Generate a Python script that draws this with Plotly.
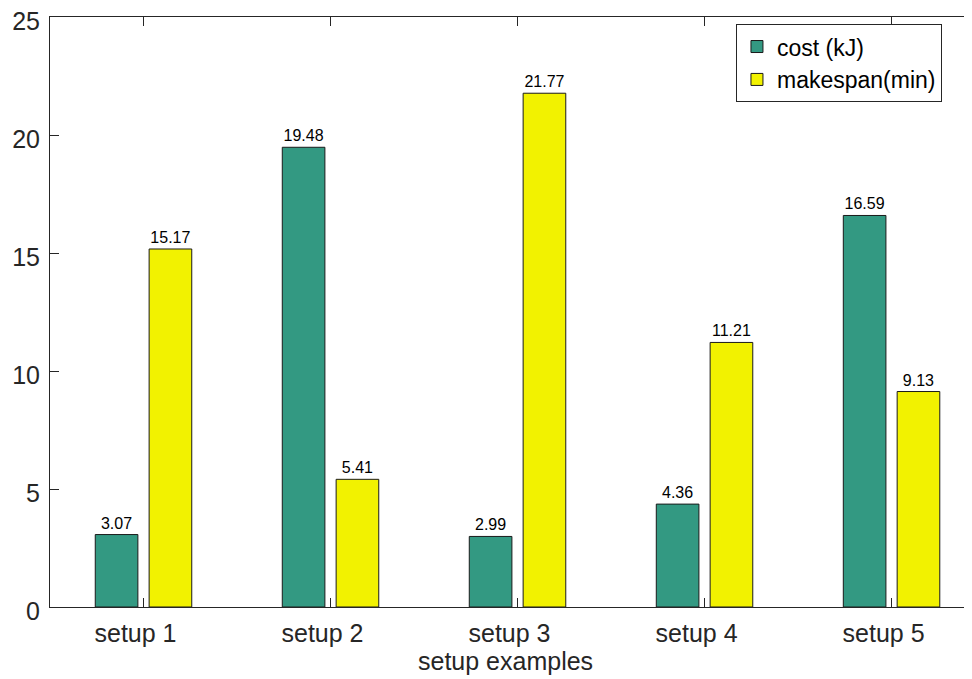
import plotly.graph_objects as go

categories = ["setup 1", "setup 2", "setup 3", "setup 4", "setup 5"]
cost = [3.07, 19.48, 2.99, 4.36, 16.59]
makespan = [15.17, 5.41, 21.77, 11.21, 9.13]
series_names = ["cost (kJ)", "makespan(min)"]
y_ticks = [0, 5, 10, 15, 20, 25]
x_title = "setup examples"

FONT = "Liberation Sans, Arial, Helvetica, sans-serif"
AX = "#262626"
x_pos = list(range(1, len(categories) + 1))
W = 0.228

fig = go.Figure()
fig.add_trace(go.Bar(
    x=x_pos, y=cost, name=series_names[0], width=W, offset=-0.144 - W / 2,
    marker=dict(color="rgb(51,153,130)", line=dict(color="#1a1a1a", width=1)),
    texttemplate="%{y:.2f}", textposition="outside",
    textfont=dict(size=16, color="black", family=FONT), cliponaxis=False,
))
fig.add_trace(go.Bar(
    x=x_pos, y=makespan, name=series_names[1], width=W, offset=0.144 - W / 2,
    marker=dict(color="rgb(242,242,0)", line=dict(color="#1a1a1a", width=1)),
    texttemplate="%{y:.2f}", textposition="outside",
    textfont=dict(size=16, color="black", family=FONT), cliponaxis=False,
))

fig.add_annotation(
    text=x_title, xref="paper", yref="paper", x=0.5, y=0,
    xanchor="center", yanchor="top", xshift=-10, yshift=-38,
    showarrow=False, font=dict(size=25, color=AX, family=FONT),
)

fig.update_layout(
    width=972, height=679,
    margin=dict(l=42, r=0, t=9, b=80, autoexpand=False),
    paper_bgcolor="white", plot_bgcolor="white",
    barmode="overlay",
    font=dict(family=FONT, color=AX),
    showlegend=True,
    legend=dict(
        x=0.7376, xanchor="left", y=0.988, yanchor="top",
        bgcolor="white", bordercolor=AX, borderwidth=1,
        font=dict(size=23, color="black", family=FONT),
        tracegroupgap=0, itemwidth=30,
    ),
    xaxis=dict(
        range=[0.5, 5.473], tickmode="array", tickvals=x_pos, ticktext=categories,
        ticks="inside", ticklen=9, tickcolor=AX, showline=True, linecolor=AX,
        linewidth=1, mirror="ticks", showgrid=False, zeroline=False,
        automargin=False, ticklabelshift=-8, ticklabelstandoff=4,
        tickfont=dict(size=25, color=AX),
    ),
    yaxis=dict(
        range=[0, 25], tickmode="array", tickvals=y_ticks,
        ticks="inside", ticklen=9, tickcolor=AX, showline=True, linecolor=AX,
        linewidth=1, showgrid=False, zeroline=False, automargin=False,
        ticklabelstandoff=4, ticklabelshift=4, ticklabeloverflow="allow",
        tickfont=dict(size=25, color=AX),
    ),
)

fig.write_html("out.html")
